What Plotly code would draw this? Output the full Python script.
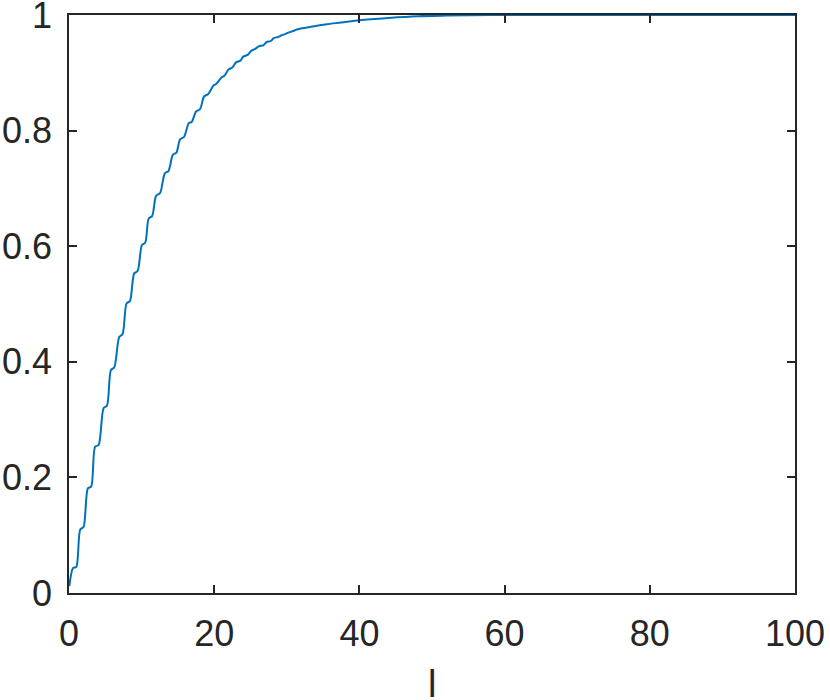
import plotly.graph_objects as go

# Values (plateau start/end of each wiggle)
l_values = [0.05,
            0.55, 1.0, 1.55, 2.0, 2.6, 3.05, 3.6, 4.08, 4.77, 5.23,
            5.78, 6.23, 6.92, 7.38, 7.93, 8.39, 8.98, 9.45, 10.05, 10.5,
            10.98, 11.45, 12.0, 12.55, 13.2, 13.7, 14.3, 14.8, 15.3, 15.85,
            16.5, 16.9, 17.5, 18.05, 18.6, 19.15, 19.9, 20.3, 21.0, 21.4,
            22.0, 22.5, 23.0, 23.6, 24.0, 24.6, 25.1, 25.6, 26.2, 26.8,
            27.2, 27.8, 28.2, 28.8, 29.3, 29.8, 30.3, 30.8, 31.4, 32.1,
            33.0, 34.0, 35.5, 37.5, 40.0, 44.0, 48.0, 52.0, 60.0, 100.0]
p_values = [0.012,
            0.043, 0.045, 0.110, 0.114, 0.181, 0.184, 0.253, 0.256, 0.320, 0.324,
            0.386, 0.390, 0.443, 0.448, 0.501, 0.505, 0.553, 0.557, 0.602, 0.606,
            0.648, 0.652, 0.687, 0.692, 0.726, 0.730, 0.758, 0.762, 0.785, 0.789,
            0.813, 0.815, 0.833, 0.837, 0.859, 0.863, 0.878, 0.881, 0.892, 0.895,
            0.906, 0.909, 0.918, 0.921, 0.928, 0.931, 0.938, 0.941, 0.946, 0.948,
            0.953, 0.955, 0.960, 0.962, 0.965, 0.967, 0.970, 0.972, 0.975, 0.977,
            0.979, 0.981, 0.984, 0.987, 0.991, 0.995, 0.998, 0.999, 1.0, 1.0]

x_ticks = [0, 20, 40, 60, 80, 100]
x_tick_labels = ["0", "20", "40", "60", "80", "100"]
y_ticks = [0, 0.2, 0.4, 0.6, 0.8, 1.0]
y_tick_labels = ["0", "0.2", "0.4", "0.6", "0.8", "1"]
x_title = "l"

AX = "#262626"
FONT = "Liberation Sans, Arial, sans-serif"

fig = go.Figure()
fig.add_trace(go.Scatter(
    x=l_values, y=p_values, mode="lines",
    line=dict(color="#0072BD", width=2, shape="spline", smoothing=0.8),
    showlegend=False, hoverinfo="skip",
))

axis_common = dict(
    showgrid=False, zeroline=False, showline=True, linecolor=AX, linewidth=1.5,
    mirror="ticks", ticks="inside", ticklen=8, tickwidth=1.5, tickcolor=AX,
    tickfont=dict(family=FONT, size=36, color=AX),
    automargin=False, ticklabeloverflow="allow",
)

fig.update_layout(
    width=830, height=700, autosize=False,
    margin=dict(l=69, r=35, t=15, b=107, pad=0),
    paper_bgcolor="white", plot_bgcolor="white",
    xaxis=dict(range=[0, 100], tickvals=x_ticks, ticktext=x_tick_labels,
               ticklabelstandoff=8, **axis_common),
    yaxis=dict(range=[0, 1], tickvals=y_ticks, ticktext=y_tick_labels,
               ticklabelstandoff=8, **axis_common),
    annotations=[dict(
        text=x_title, xref="paper", yref="paper", x=0.5, y=-0.117,
        xanchor="center", yanchor="top", showarrow=False,
        font=dict(family=FONT, size=38, color=AX),
    )],
)

fig.write_html(
    "out.html",
    config={"displayModeBar": False},
    post_script="document.body.style.margin='0';document.body.style.overflow='hidden';",
)
